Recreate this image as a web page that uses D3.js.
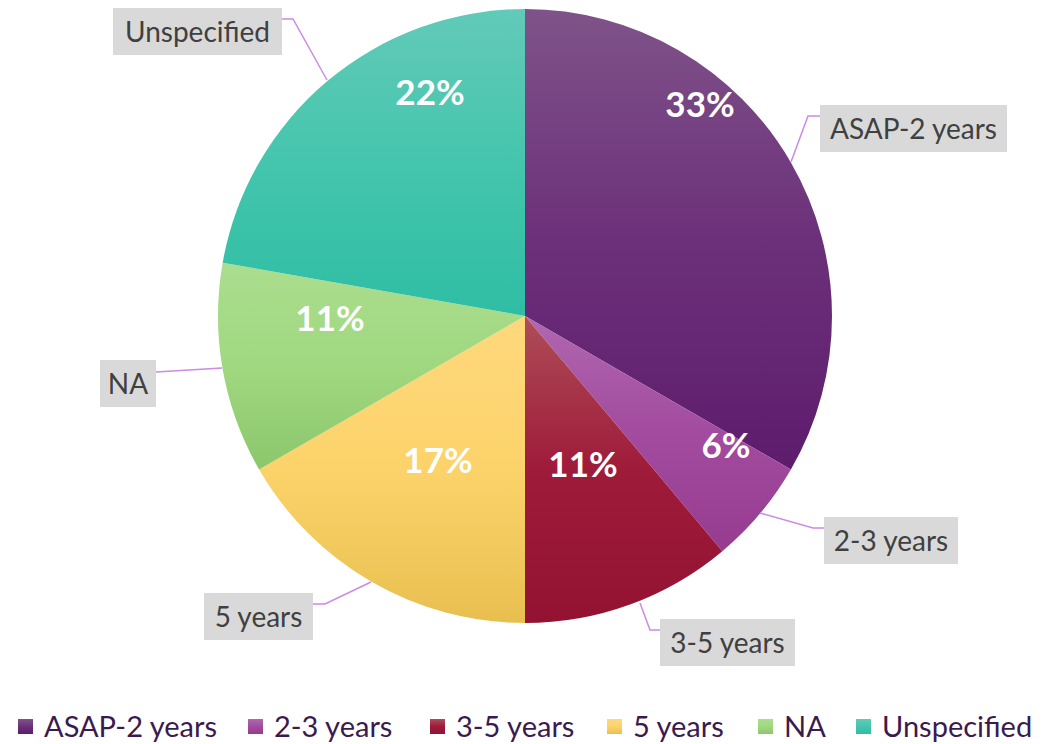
<!DOCTYPE html>
<html><head><meta charset="utf-8">
<script src="https://cdn.jsdelivr.net/npm/d3@7"></script>
<style>body{margin:0;background:#fff}svg{display:block}</style>
</head><body>
<svg id="chart" width="1053" height="744"></svg>
<script>
// ---- data ----
const categories = ["ASAP-2 years","2-3 years","3-5 years","5 years","NA","Unspecified"];
const counts = [6,1,2,3,2,4];
// ---- styles ----
const topColors = ["#7f5389","#b067b0","#ae4d58","#ffd87d","#abdd8e","#62cab8"];
const midColors = ["#6c307a","#a24b9f","#9f1b3a","#fcd36a","#a0d880","#45c5ad"];
const botColors = ["#5e1c6c","#963c90","#931232","#e8bf4f","#8cc76c","#2ebea4"];
// ---- layout ----
const cx = 525, cy = 316, R = 307;
const pctPos = [[700,104],[726,445],[583,464],[438,460],[330,318],[430,92]];
const boxPos = [[820,105,187],[824,517,134],[660,619,135],[204,593,109],[100,360,56],[113,8,169]];
const leaders = [
  [[791,162],[808,116],[820,116]],
  [[760,513],[813,528],[824,528]],
  [[640,603],[650,630],[660,630]],
  [[371,582],[325,604],[313,604]],
  [[222,368],[156,372]],
  [[327,80],[293,19],[282,19]]
];
const legendX = [18,248,430,607,758,856];

const svg = d3.select("#chart");
const defs = svg.append("defs");
categories.forEach((c,i)=>{
  const g = defs.append("linearGradient").attr("id","g"+i).attr("x1",0).attr("y1",0).attr("x2",0).attr("y2",1);
  g.append("stop").attr("offset","0%").attr("stop-color",topColors[i]);
  g.append("stop").attr("offset","50%").attr("stop-color",midColors[i]);
  g.append("stop").attr("offset","100%").attr("stop-color",botColors[i]);
});

const total = d3.sum(counts);
const pie = d3.pie().sort(null).value(d=>d)(counts);
const arc = d3.arc().innerRadius(0).outerRadius(R);
const g = svg.append("g").attr("transform",`translate(${cx},${cy})`);
g.selectAll("path").data(pie).join("path")
  .attr("d",arc).attr("fill",(d,i)=>`url(#g${i})`);

// leaders
const line = d3.line();
svg.selectAll("path.leader").data(leaders).join("path").attr("class","leader")
  .attr("d",d=>line(d)).attr("fill","none").attr("stroke","#c98ae8").attr("stroke-width",1.5);

// boxes
const fontFam = "Lato, 'Open Sans', sans-serif";
categories.forEach((c,i)=>{
  const [x,y,w] = boxPos[i];
  svg.append("rect").attr("x",x).attr("y",y).attr("width",w).attr("height",47).attr("fill","#d9d9d9");
  svg.append("text").attr("x",x+w/2).attr("y",y+34).attr("text-anchor","middle")
    .attr("font-family",fontFam).attr("font-size",28).attr("fill","#404040").text(c);
});

// percents
pie.forEach((d,i)=>{
  svg.append("text").attr("x",pctPos[i][0]).attr("y",pctPos[i][1]+13).attr("text-anchor","middle")
    .attr("font-family",fontFam).attr("font-weight","bold").attr("font-size",35).attr("fill","#fff")
    .text(Math.round(d.data/total*100)+"%");
});

// legend
categories.forEach((c,i)=>{
  svg.append("rect").attr("x",legendX[i]).attr("y",719).attr("width",15).attr("height",15).attr("fill",`url(#g${i})`);
  svg.append("text").attr("x",legendX[i]+26).attr("y",737).attr("font-family",fontFam).attr("font-size",29)
    .attr("fill","#3b1a4f").text(c);
});
</script>
</body></html>
